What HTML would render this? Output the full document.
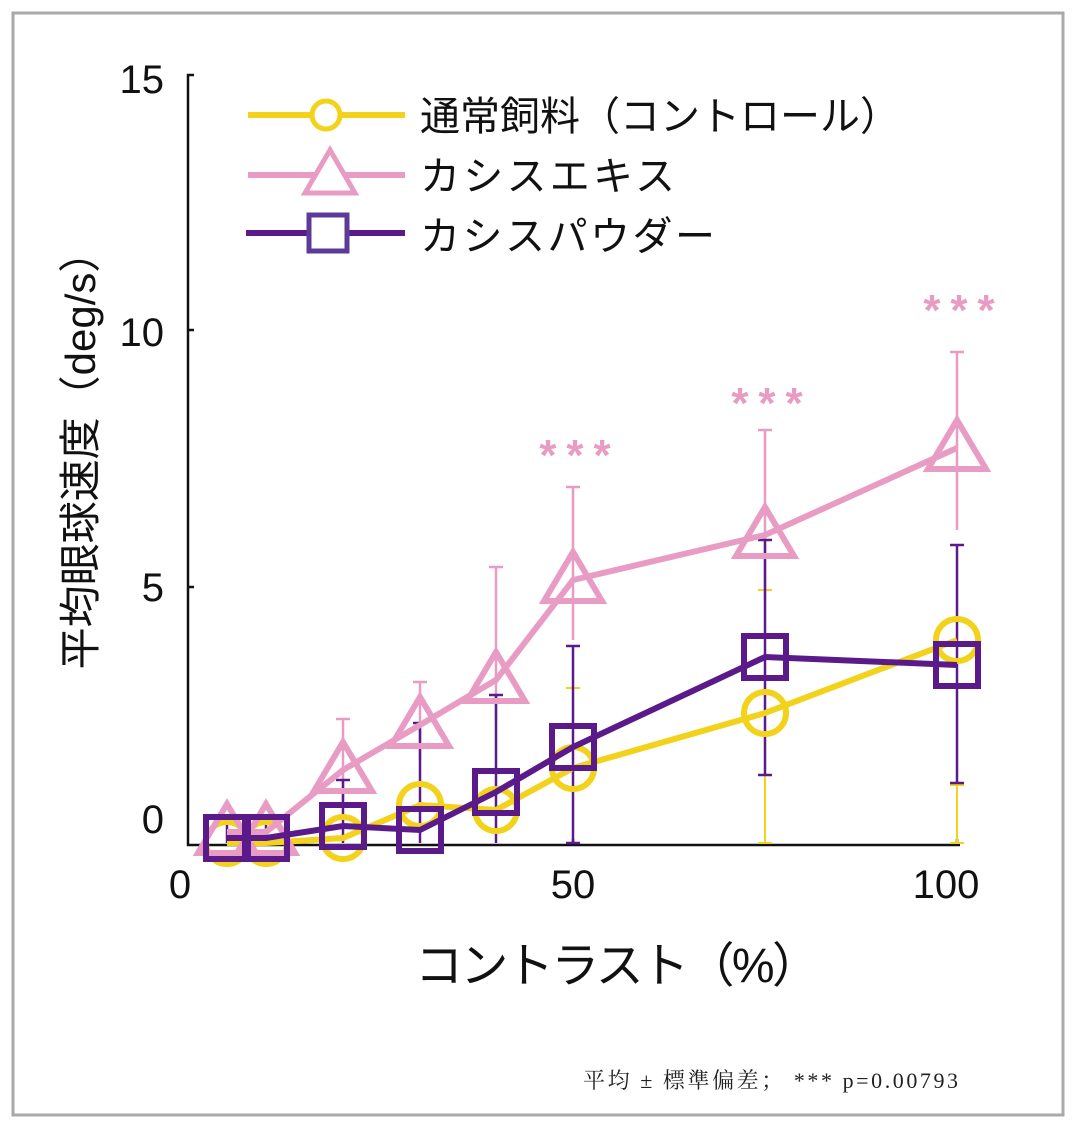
<!DOCTYPE html><html><head><meta charset="utf-8"><style>body{margin:0;background:#fff}svg{display:block}</style></head><body>
<svg width="1076" height="1130" xmlns="http://www.w3.org/2000/svg" font-family="'Liberation Sans','Noto Sans CJK JP',sans-serif">
<rect x="13" y="13" width="1050" height="1102" fill="#fff" stroke="#aaa" stroke-width="3"/>
<path d="M194,75 H188 V845 H960" fill="none" stroke="#111" stroke-width="2.5"/>
<path d="M188,330 h6 M188,587 h6 M573,845 v-6 M957,845 v-6" stroke="#111" stroke-width="2.5"/>
<g font-size="40" fill="#111" text-anchor="end">
<text x="164" y="93">15</text><text x="164" y="346">10</text><text x="164" y="601">5</text><text x="164" y="833">0</text></g>
<g font-size="40" fill="#111" text-anchor="middle">
<text x="180" y="898">0</text><text x="573" y="898">50</text><text x="946" y="898">100</text></g>
<text transform="translate(95,450) rotate(-90)" font-size="42" text-anchor="middle" fill="#111">平均眼球速度（deg/s）</text>
<text x="415" y="982" font-size="48" fill="#111" textLength="405">コントラスト（%）</text>
<text x="583" y="1088" font-size="22" fill="#222" font-family="'Liberation Serif','Noto Serif CJK SC',serif" textLength="375">平均 ± 標準偏差； *** p=0.00793</text>
<g stroke="#f2d21a" stroke-width="2">
<path d="M573,688V843M765,590V843M957,785V843M420,783V843"/>
<path d="M566,688h14M758,590h14M950,785h14M566,843h14M758,843h14M950,843h14"/></g>
<g stroke="#e89cc3" stroke-width="2.5">
<path d="M343,719V800M420,682V760M496,567V720M573,487V640M765,430V600M957,352V530"/>
<path d="M336,719h14M413,682h14M489,567h14M566,487h14M758,430h14M950,352h14"/></g>
<g stroke="#5a1a8a" stroke-width="2.5">
<path d="M343,780V843M420,723V843M496,695V843M573,646V843M765,540V775M957,545V783M227,818V843M266,818V843"/>
<path d="M336,780h14M413,723h14M489,695h14M566,646h14M758,540h14M950,545h14M758,775h14M950,783h14M566,843h14"/></g>
<polyline points="227,843 266,843 343,838 420,805 496,810 573,768 765,713 957,640" fill="none" stroke="#f2d21a" stroke-width="6"/>
<g fill="none" stroke="#f2d21a" stroke-width="6">
<circle cx="227" cy="843" r="21"/><circle cx="266" cy="843" r="21"/><circle cx="343" cy="838" r="21"/><circle cx="420" cy="805" r="21"/><circle cx="496" cy="810" r="21"/><circle cx="573" cy="768" r="21"/><circle cx="765" cy="713" r="21"/><circle cx="957" cy="640" r="21"/></g>
<polyline points="227,832 266,832 343,770 420,725 496,680 573,580 765,535 957,448" fill="none" stroke="#e89cc3" stroke-width="6"/>
<g fill="none" stroke="#e89cc3" stroke-width="6">
<path d="M0,-28 L29,21 L-29,21 Z" transform="translate(227,832)"/>
<path d="M0,-28 L29,21 L-29,21 Z" transform="translate(266,832)"/>
<path d="M0,-28 L29,21 L-29,21 Z" transform="translate(343,770)"/>
<path d="M0,-28 L29,21 L-29,21 Z" transform="translate(420,725)"/>
<path d="M0,-28 L29,21 L-29,21 Z" transform="translate(496,680)"/>
<path d="M0,-28 L29,21 L-29,21 Z" transform="translate(573,580)"/>
<path d="M0,-28 L29,21 L-29,21 Z" transform="translate(765,535)"/>
<path d="M0,-28 L29,21 L-29,21 Z" transform="translate(957,448)"/></g>
<polyline points="227,838 266,838 343,826 420,830 496,792 573,747 765,657 957,665" fill="none" stroke="#5a1a8a" stroke-width="6"/>
<g fill="none" stroke="#5a1a8a" stroke-width="6">
<rect x="206" y="817" width="42" height="42"/><rect x="245" y="817" width="42" height="42"/><rect x="322" y="805" width="42" height="42"/><rect x="399" y="809" width="42" height="42"/><rect x="475" y="771" width="42" height="42"/><rect x="552" y="726" width="42" height="42"/><rect x="744" y="636" width="42" height="42"/><rect x="936" y="644" width="42" height="42"/></g>
<g font-size="44" font-weight="bold" fill="#e89cc3" text-anchor="middle" letter-spacing="10">
<text x="580" y="470">***</text><text x="772" y="418">***</text><text x="964" y="325">***</text></g>
<line x1="248" y1="115" x2="405" y2="115" stroke="#f2d21a" stroke-width="6"/>
<circle cx="326" cy="115" r="14" fill="#fff" stroke="#f2d21a" stroke-width="5"/>
<line x1="248" y1="175" x2="405" y2="175" stroke="#e89cc3" stroke-width="6"/>
<path d="M330,150 L355,193 L305,193 Z" fill="#fff" stroke="#e89cc3" stroke-width="5"/>
<line x1="246" y1="233" x2="405" y2="233" stroke="#5a1a8a" stroke-width="6"/>
<rect x="309" y="215" width="38" height="36" fill="#fff" stroke="#5b3a9a" stroke-width="5"/>
<g font-size="40" fill="#111">
<text x="420" y="130" textLength="480">通常飼料（コントロール）</text><text x="420" y="190" textLength="255">カシスエキス</text><text x="420" y="250" textLength="295">カシスパウダー</text></g>
</svg></body></html>
